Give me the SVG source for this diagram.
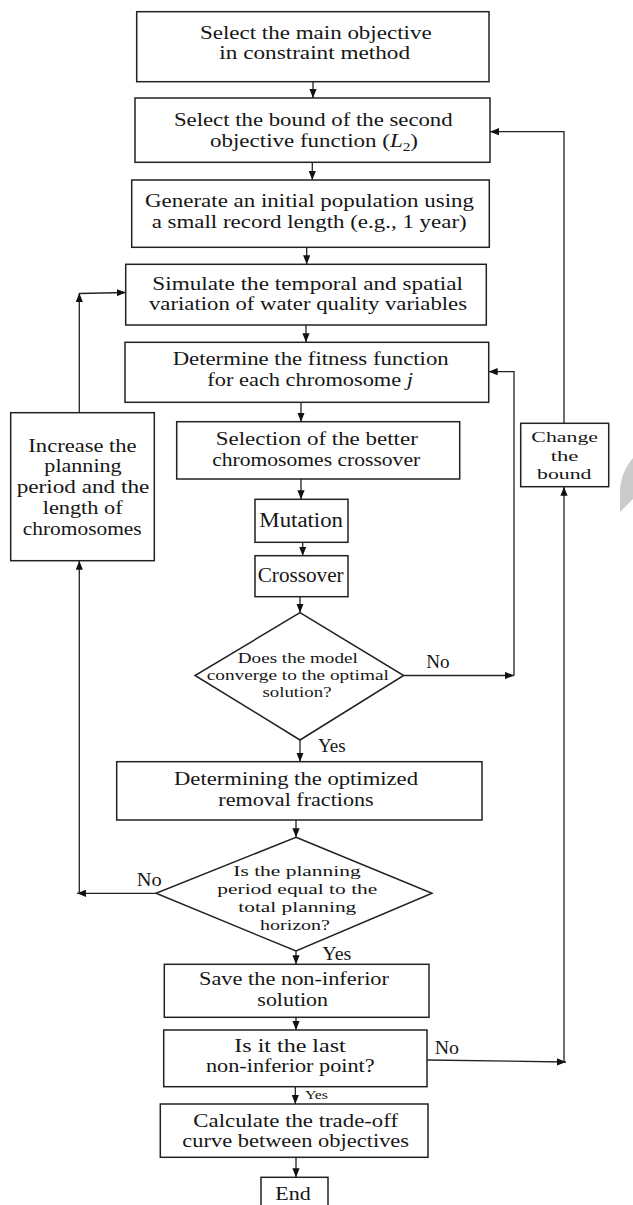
<svg xmlns="http://www.w3.org/2000/svg" width="633" height="1205" viewBox="0 0 633 1205">
<style>
.bx{fill:#fff;stroke:#222;stroke-width:1.5}
.ln{fill:none;stroke:#222;stroke-width:1.3}
.t{font-family:"Liberation Serif","Times New Roman",serif;font-size:18px;fill:#161616;text-anchor:middle}
.s{font-size:15px}
.m{font-size:20px}
.xs{font-size:13px}
.c{font-size:15.5px}
</style>
<defs>
<marker id="ah" viewBox="0 0 10 8" refX="10" refY="4" markerWidth="9" markerHeight="7.5" markerUnits="userSpaceOnUse" orient="auto">
<path d="M0,0 L10,4 L0,8 Z" fill="#111"/>
</marker>
</defs>
<rect width="633" height="1205" fill="#fff"/>
<path d="M633,458 C626,466 620,478 620,492 L620,512 L633,499 Z" fill="#cbcbcb"/>

<g id="connectors">
<line class="ln" x1="313" y1="81.7" x2="313" y2="98" marker-end="url(#ah)"/>
<line class="ln" x1="312.3" y1="162.3" x2="312.3" y2="180" marker-end="url(#ah)"/>
<line class="ln" x1="306.7" y1="247.3" x2="306.7" y2="264.3" marker-end="url(#ah)"/>
<line class="ln" x1="306" y1="325" x2="306" y2="342.3" marker-end="url(#ah)"/>
<line class="ln" x1="301" y1="402.3" x2="301" y2="421.7" marker-end="url(#ah)"/>
<line class="ln" x1="301" y1="479" x2="301" y2="499.3" marker-end="url(#ah)"/>
<line class="ln" x1="302.7" y1="542.3" x2="302.7" y2="555.7" marker-end="url(#ah)"/>
<line class="ln" x1="300" y1="596.7" x2="300" y2="612.7" marker-end="url(#ah)"/>
<line class="ln" x1="403.7" y1="675.5" x2="514" y2="675.5" marker-end="url(#ah)"/>
<polyline class="ln" points="514,675.5 514,371.7 488.7,371.7" marker-end="url(#ah)"/>
<line class="ln" x1="300" y1="740" x2="300" y2="761.7" marker-end="url(#ah)"/>
<line class="ln" x1="296" y1="820" x2="296" y2="837.3" marker-end="url(#ah)"/>
<line class="ln" x1="296" y1="951" x2="296" y2="964.3" marker-end="url(#ah)"/>
<line class="ln" x1="296" y1="1017.3" x2="296" y2="1030" marker-end="url(#ah)"/>
<line class="ln" x1="295.3" y1="1086.7" x2="295.3" y2="1104" marker-end="url(#ah)"/>
<line class="ln" x1="296" y1="1157.3" x2="296" y2="1177.3" marker-end="url(#ah)"/>
<line class="ln" x1="156" y1="893.3" x2="77" y2="893.3" marker-end="url(#ah)"/>
<line class="ln" x1="79.3" y1="893.3" x2="79.3" y2="560.7" marker-end="url(#ah)"/>
<line class="ln" x1="79.3" y1="412.7" x2="79.3" y2="293" marker-end="url(#ah)"/>
<line class="ln" x1="79.3" y1="293.5" x2="125.7" y2="292.5" marker-end="url(#ah)"/>
<line class="ln" x1="427" y1="1060" x2="566" y2="1062" marker-end="url(#ah)"/>
<line class="ln" x1="564" y1="1062" x2="564" y2="486.7" marker-end="url(#ah)"/>
<polyline class="ln" points="564,423.3 564,131.7 490,131.7" marker-end="url(#ah)"/>
</g>

<g id="n1">
<rect class="bx" x="136.7" y="11.7" width="352.3" height="70"/>
<text class="t" x="315.8" y="39" textLength="231.7" lengthAdjust="spacingAndGlyphs">Select the main objective</text>
<text class="t" x="314.7" y="59.3" textLength="190.7" lengthAdjust="spacingAndGlyphs">in constraint method</text>
</g>
<g id="n2">
<rect class="bx" x="135" y="98" width="355" height="64.3"/>
<text class="t" x="313.3" y="126" textLength="278.7" lengthAdjust="spacingAndGlyphs">Select the bound of the second</text>
<text class="t" x="314" y="146.7" textLength="208" lengthAdjust="spacingAndGlyphs">objective function (<tspan font-style="italic">L</tspan><tspan font-size="12" dy="4">2</tspan><tspan dy="-4">)</tspan></text>
</g>
<g id="n3">
<rect class="bx" x="131.7" y="180" width="357.6" height="67.3"/>
<text class="t" x="309.5" y="206.7" textLength="329" lengthAdjust="spacingAndGlyphs">Generate an initial population using</text>
<text class="t" x="309.2" y="227.7" textLength="315" lengthAdjust="spacingAndGlyphs">a small record length (e.g., 1 year)</text>
</g>
<g id="n4">
<rect class="bx" x="125.7" y="264.3" width="360.6" height="60.7"/>
<text class="t" x="307.7" y="290" textLength="310.7" lengthAdjust="spacingAndGlyphs">Simulate the temporal and spatial</text>
<text class="t" x="308" y="310" textLength="318" lengthAdjust="spacingAndGlyphs">variation of water quality variables</text>
</g>
<g id="n5">
<rect class="bx" x="125" y="342.3" width="363.7" height="60"/>
<text class="t" x="310.7" y="365" textLength="276" lengthAdjust="spacingAndGlyphs">Determine the fitness function</text>
<text class="t" x="310.2" y="385.7" textLength="205.7" lengthAdjust="spacingAndGlyphs">for each chromosome <tspan font-style="italic">j</tspan></text>
</g>
<g id="n6">
<rect class="bx" x="176.7" y="421.7" width="283" height="57.3"/>
<text class="t" x="316.8" y="445" textLength="202" lengthAdjust="spacingAndGlyphs">Selection of the better</text>
<text class="t" x="316.2" y="465.7" textLength="208" lengthAdjust="spacingAndGlyphs">chromosomes crossover</text>
</g>
<g id="n7">
<rect class="bx" x="255" y="499.3" width="93" height="43"/>
<text class="t m" x="301.2" y="526.7" textLength="83.7" lengthAdjust="spacingAndGlyphs">Mutation</text>
</g>
<g id="n8">
<rect class="bx" x="255" y="555.7" width="93" height="41"/>
<text class="t m" x="300.7" y="581.7" textLength="86" lengthAdjust="spacingAndGlyphs">Crossover</text>
</g>
<g id="n9">
<polygon class="bx" points="300,612.7 403.7,675.5 300,740 195,675.5"/>
<text class="t s" x="297.8" y="662.7" textLength="120" lengthAdjust="spacingAndGlyphs">Does the model</text>
<text class="t s" x="297.8" y="680" textLength="182" lengthAdjust="spacingAndGlyphs">converge to the optimal</text>
<text class="t s" x="297" y="696.7" textLength="69" lengthAdjust="spacingAndGlyphs">solution?</text>
<text class="t" x="438" y="668.3" textLength="23.4" lengthAdjust="spacingAndGlyphs">No</text>
<text class="t" x="331.8" y="751.7" textLength="27.7" lengthAdjust="spacingAndGlyphs">Yes</text>
</g>
<g id="n10">
<rect class="bx" x="116.7" y="761.7" width="365.3" height="58.3"/>
<text class="t" x="296" y="785" textLength="244" lengthAdjust="spacingAndGlyphs">Determining the optimized</text>
<text class="t" x="296" y="805.7" textLength="155.4" lengthAdjust="spacingAndGlyphs">removal fractions</text>
</g>
<g id="n11">
<polygon class="bx" points="296,837.3 432,893.3 296,951 156,893.3"/>
<text class="t s" x="297" y="875.7" textLength="127.4" lengthAdjust="spacingAndGlyphs">Is the planning</text>
<text class="t s" x="297.3" y="894" textLength="160" lengthAdjust="spacingAndGlyphs">period equal to the</text>
<text class="t s" x="297.3" y="912.3" textLength="118" lengthAdjust="spacingAndGlyphs">total planning</text>
<text class="t s" x="295" y="930" textLength="70" lengthAdjust="spacingAndGlyphs">horizon?</text>
<text class="t" x="149.2" y="885.7" textLength="25" lengthAdjust="spacingAndGlyphs">No</text>
<text class="t" x="336.8" y="960" textLength="29" lengthAdjust="spacingAndGlyphs">Yes</text>
</g>
<g id="n12">
<rect class="bx" x="164.3" y="964.3" width="264.7" height="53"/>
<text class="t" x="294" y="985" textLength="190" lengthAdjust="spacingAndGlyphs">Save the non-inferior</text>
<text class="t" x="292.7" y="1005.7" textLength="70.7" lengthAdjust="spacingAndGlyphs">solution</text>
</g>
<g id="n13">
<rect class="bx" x="163.7" y="1030" width="263.3" height="56.7"/>
<text class="t" x="290" y="1051.7" textLength="111.4" lengthAdjust="spacingAndGlyphs">Is it the last</text>
<text class="t" x="290.3" y="1072.3" textLength="168.7" lengthAdjust="spacingAndGlyphs">non-inferior point?</text>
<text class="t" x="446.8" y="1054.3" textLength="24.3" lengthAdjust="spacingAndGlyphs">No</text>
<text class="t xs" x="316.5" y="1099" textLength="23" lengthAdjust="spacingAndGlyphs">Yes</text>
</g>
<g id="n14">
<rect class="bx" x="160.3" y="1104" width="267.7" height="53.3"/>
<text class="t" x="295.7" y="1126.7" textLength="204.7" lengthAdjust="spacingAndGlyphs">Calculate the trade-off</text>
<text class="t" x="295.7" y="1146.7" textLength="226.7" lengthAdjust="spacingAndGlyphs">curve between objectives</text>
</g>
<g id="n15">
<rect class="bx" x="261" y="1177.3" width="67" height="40"/>
<text class="t" x="293" y="1200" textLength="35.4" lengthAdjust="spacingAndGlyphs">End</text>
</g>
<g id="n16">
<rect class="bx" x="10.7" y="412.7" width="143.6" height="148"/>
<text class="t" x="82.5" y="451.7" textLength="108.3" lengthAdjust="spacingAndGlyphs">Increase the</text>
<text class="t" x="83" y="472.3" textLength="77.3" lengthAdjust="spacingAndGlyphs">planning</text>
<text class="t" x="83" y="493.3" textLength="132.7" lengthAdjust="spacingAndGlyphs">period and the</text>
<text class="t" x="82.7" y="514" textLength="80" lengthAdjust="spacingAndGlyphs">length of</text>
<text class="t" x="82.2" y="535" textLength="119" lengthAdjust="spacingAndGlyphs">chromosomes</text>
</g>
<g id="n17">
<rect class="bx" x="520.7" y="423.3" width="88" height="63.4"/>
<text class="t c" x="564.7" y="442" textLength="66.7" lengthAdjust="spacingAndGlyphs">Change</text>
<text class="t c" x="564.5" y="460.5" textLength="27.7" lengthAdjust="spacingAndGlyphs">the</text>
<text class="t c" x="564.2" y="479" textLength="54.3" lengthAdjust="spacingAndGlyphs">bound</text>
</g>
</svg>
